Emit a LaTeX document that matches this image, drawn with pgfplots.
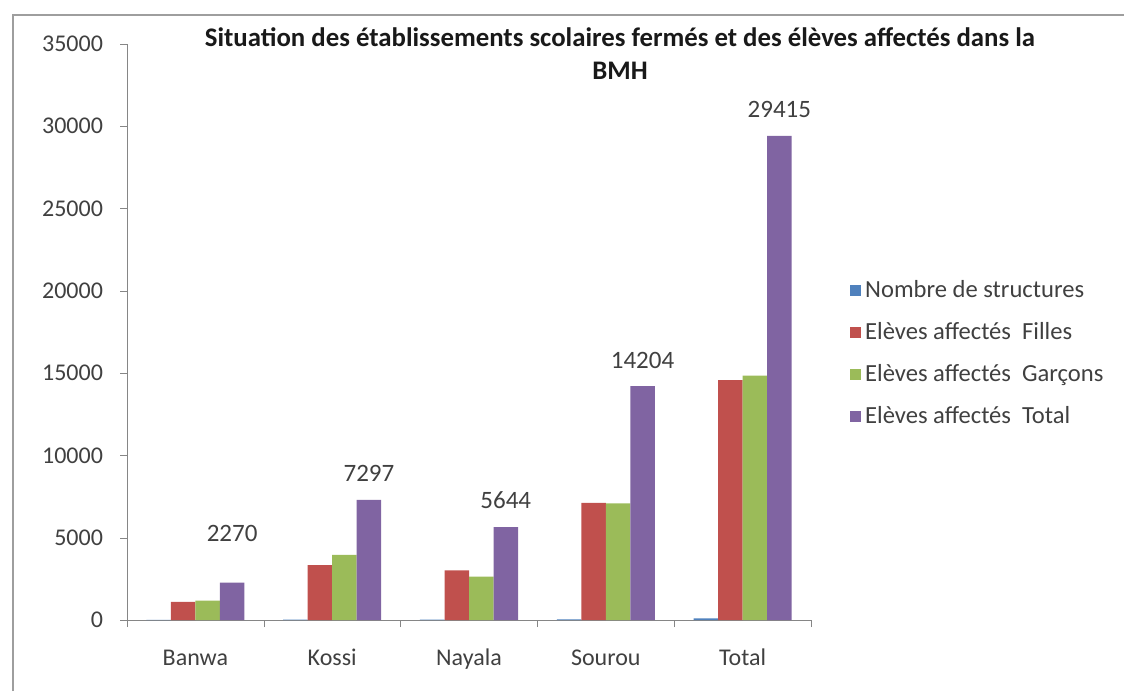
\documentclass[border=0pt]{standalone}
\usepackage{pgfplots}
\pgfplotsset{compat=1.18}
\usepackage{fontspec}
\setmainfont{Carlito}
\definecolor{cblue}{HTML}{4F81BD}
\definecolor{cred}{HTML}{C0504D}
\definecolor{cgreen}{HTML}{9BBB59}
\definecolor{cpurple}{HTML}{8064A2}
\definecolor{axgray}{HTML}{868686}
\definecolor{txtgray}{HTML}{404040}
\begin{document}
\begin{tikzpicture}
\path[use as bounding box] (0pt,0pt) rectangle (562pt,345.5pt);
\draw[axgray!80, line width=1pt] (6.5pt,0pt) -- (6.5pt,338pt) -- (562pt,338pt);
\node[font=\bfseries\fontsize{13.4}{16.5}\selectfont, align=center, text=black!90] at (310pt,318.5pt)
  {Situation des établissements scolaires fermés et des élèves affectés dans la\\BMH};
\begin{axis}[
  at={(63.5pt,35.5pt)}, anchor=south west,
  scale only axis, width=342pt, height=288pt,
  ymin=0, ymax=35000, ytick={0,5000,...,35000},
  xmin=-0.5, xmax=4.5,
  xtick={-0.5,0.5,...,4.5},
  x tick label as interval,
  xticklabels={Banwa,Kossi,Nayala,Sourou,Total},
  axis lines=left, axis line style={-, axgray},
  tick align=outside, major tick length=3.5pt,
  tick style={axgray},
  ticklabel style={font=\fontsize{12}{13}\selectfont, text=txtgray},
  /pgf/number format/assume math mode=true,
  scaled y ticks=false,
  yticklabel={\pgfmathprintnumber[fixed,1000 sep={}]{\tick}},
  x tick label style={yshift=-8pt, text height=1.6ex, text depth=0.3ex},
  y tick label style={xshift=-5pt},
  ybar=0pt, bar width=12.25pt,
  legend cell align=left,
  legend style={at={(1.047,0.604)}, anchor=north west, draw=none, fill=none,
    font=\fontsize{12.3}{13}\selectfont, text=txtgray, row sep=7pt},
  legend image code/.code={\fill[#1] (-0.5pt,-2.8pt) rectangle (5.3pt,3pt);},
]
\addplot[fill=cblue, draw=none] coordinates {(0,9) (1,30) (2,25) (3,33) (4,97)};
\addplot[fill=cred, draw=none] coordinates {(0,1100) (1,3340) (2,3010) (3,7120) (4,14570)};
\addplot[fill=cgreen, draw=none] coordinates {(0,1170) (1,3957) (2,2634) (3,7084) (4,14845)};
\addplot[fill=cpurple, draw=none, nodes near coords,
  every node near coord/.append style={font=\fontsize{12.5}{13}\selectfont, text=txtgray, yshift=5.5pt},
  nodes near coords={\pgfplotspointmeta},
  point meta=explicit symbolic]
  coordinates {(0,2270)[\raisebox{11.5pt}{2270}] (1,7297)[7297] (2,5644)[5644] (3,14204)[14204] (4,29415)[29415]};
\legend{Nombre de structures, Elèves affectés\hspace{0.45em}Filles, Elèves affectés\hspace{0.45em}Garçons, Elèves affectés\hspace{0.45em}Total}
\end{axis}
\end{tikzpicture}
\end{document}
